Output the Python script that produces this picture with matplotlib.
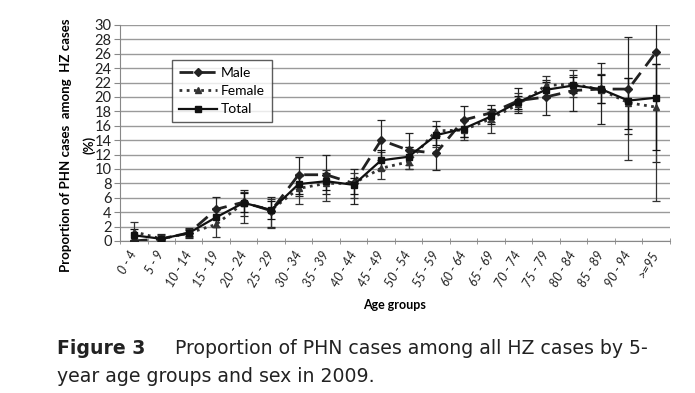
import numpy as np
import matplotlib.pyplot as plt
from matplotlib.ticker import MultipleLocator, FixedLocator

# -------- Data --------
age_groups = ["0 - 4", "5 - 9", "10 - 14", "15 - 19", "20 - 24", "25 - 29",
              "30 - 34", "35 - 39", "40 - 44", "45 - 49", "50 - 54", "55 - 59",
              "60 - 64", "65 - 69", "70 - 74", "75 - 79", "80 - 84", "85 - 89",
              "90 - 94", ">=95"]

male = [0.0, 0.3, 1.1, 4.4, 5.4, 4.2, 9.2, 9.2, 8.0, 14.0,
        12.6, 12.2, 16.8, 17.8, 19.5, 20.0, 20.9, 21.1, 21.1, 26.2]
male_lo = [0.0, 0.0, 0.4, 2.0, 3.5, 2.0, 6.3, 6.5, 5.1, 11.2,
           10.0, 9.9, 14.5, 16.5, 17.8, 17.5, 18.1, 16.3, 14.9, 11.0]
male_hi = [0.0, 1.0, 1.8, 6.1, 7.1, 6.1, 11.7, 11.9, 10.0, 16.8,
           15.0, 14.6, 18.8, 18.9, 21.3, 22.3, 23.0, 24.7, 28.4, 31.0]

female = [1.3, 0.3, 1.1, 2.3, 5.3, 4.3, 7.3, 8.0, 8.0, 10.1,
          11.0, 15.3, 15.4, 17.0, 19.0, 21.6, 21.8, 21.0, 19.2, 18.6]
female_lo = [0.2, 0.0, 0.5, 0.5, 2.5, 1.8, 5.1, 5.5, 6.0, 8.6,
             10.0, 13.0, 14.0, 15.0, 18.0, 20.0, 20.0, 19.1, 11.3, 5.6]
female_hi = [2.7, 0.8, 1.7, 4.5, 6.8, 5.8, 9.3, 9.8, 9.5, 12.3,
             13.0, 16.6, 17.0, 18.3, 20.5, 22.9, 23.75, 23.2, 22.7, 24.6]

total = [0.8, 0.3, 1.1, 3.3, 5.3, 4.3, 7.9, 8.3, 7.8, 11.2,
         11.7, 14.7, 15.6, 17.3, 19.3, 21.0, 21.6, 21.1, 19.5, 19.9]
total_lo = [0.2, 0.1, 0.7, 2.0, 4.0, 3.1, 6.5, 7.1, 6.5, 9.9,
            10.5, 13.4, 14.5, 16.3, 18.4, 19.8, 20.5, 19.2, 15.6, 12.7]
total_hi = [1.6, 0.6, 1.5, 4.6, 6.6, 5.5, 9.0, 9.5, 8.8, 12.6,
            13.0, 16.0, 16.8, 18.3, 20.2, 22.1, 22.8, 23.0, 22.7, 24.6]

font = ["Lato", "DejaVu Sans"]
plt.rcParams["font.family"] = font

x = np.arange(len(age_groups))

fig = plt.figure(figsize=(6.95, 3.93), dpi=100)
ax = fig.add_axes([0.1727, 0.3868, 0.7908, 0.5496])

ax.set_ylim(0, 30)
ax.set_xlim(-0.5, len(age_groups) - 0.5)
ax.yaxis.set_major_locator(MultipleLocator(2))
ax.grid(axis="y", color="#9a9a9a", lw=1.0)
ax.set_axisbelow(True)

for sp in ["top", "right"]:
    ax.spines[sp].set_visible(False)
ax.spines["left"].set_color("#888888")
ax.spines["bottom"].set_color("#888888")


def err(vals, lo, hi):
    v = np.array(vals)
    return [v - np.array(lo), np.array(hi) - v]


# -------- Series --------
styles = [
    (male, male_lo, male_hi, "Male", "#222222", (0, (5, 3)), 2.0, "D", 4.5),
    (female, female_lo, female_hi, "Female", "#333333", (0, (1, 1.6)), 2.0, "^", 5),
    (total, total_lo, total_hi, "Total", "#111111", "-", 1.6, "s", 4.5),
]
for vals, lo, hi, name, col, ls, lw, mk, ms in styles:
    ax.errorbar(x, vals, yerr=err(vals, lo, hi), fmt="none", ecolor=col,
                capsize=3, elinewidth=0.9, capthick=0.9, zorder=3)
    ax.plot(x, vals, color=col, ls=ls, lw=lw, marker=mk, ms=ms,
            label=name, zorder=4)

# -------- Axes text --------
ax.set_xticks(x)
ax.set_xticklabels(age_groups, rotation=60, ha="right", va="center",
                   rotation_mode="anchor", fontsize=9, style="italic",
                   color="#222222")
ax.tick_params(axis="x", which="major", length=0, pad=8)
ax.xaxis.set_minor_locator(FixedLocator(np.arange(-0.5, len(age_groups), 1)))
ax.tick_params(axis="x", which="minor", length=4, direction="inout",
               color="#888888")
ax.tick_params(axis="y", length=4, color="#888888", labelsize=10.5,
               labelcolor="#222222", pad=2)

ax.set_xlabel("Age groups", fontsize=9, fontweight="bold", labelpad=7)
ax.set_ylabel("Proportion of PHN cases  among  HZ cases\n(%)", fontsize=9.5,
              fontweight="bold", linespacing=2.0)
ax.yaxis.set_label_coords(-0.045, 0.444)

leg = ax.legend(loc="upper left", bbox_to_anchor=(0.095, 0.838), fontsize=10,
                frameon=True, fancybox=False, edgecolor="#333333",
                handlelength=2.7, handletextpad=0.3, borderpad=0.5,
                labelspacing=0.45, borderaxespad=0)
leg.get_frame().set_linewidth(1.0)

# -------- Caption --------
cap = ["DejaVu Sans"]
fig.text(0.082, 0.1, "Figure 3", fontsize=13.6, fontweight="bold",
         color="#222222", family=cap)
fig.text(0.252, 0.1, "Proportion of PHN cases among all HZ cases by 5-",
         fontsize=13.6, color="#222222", family=cap)
fig.text(0.082, 0.028, "year age groups and sex in 2009.", fontsize=13.6,
         color="#222222", family=cap)

fig.savefig("out.png", dpi=100)
